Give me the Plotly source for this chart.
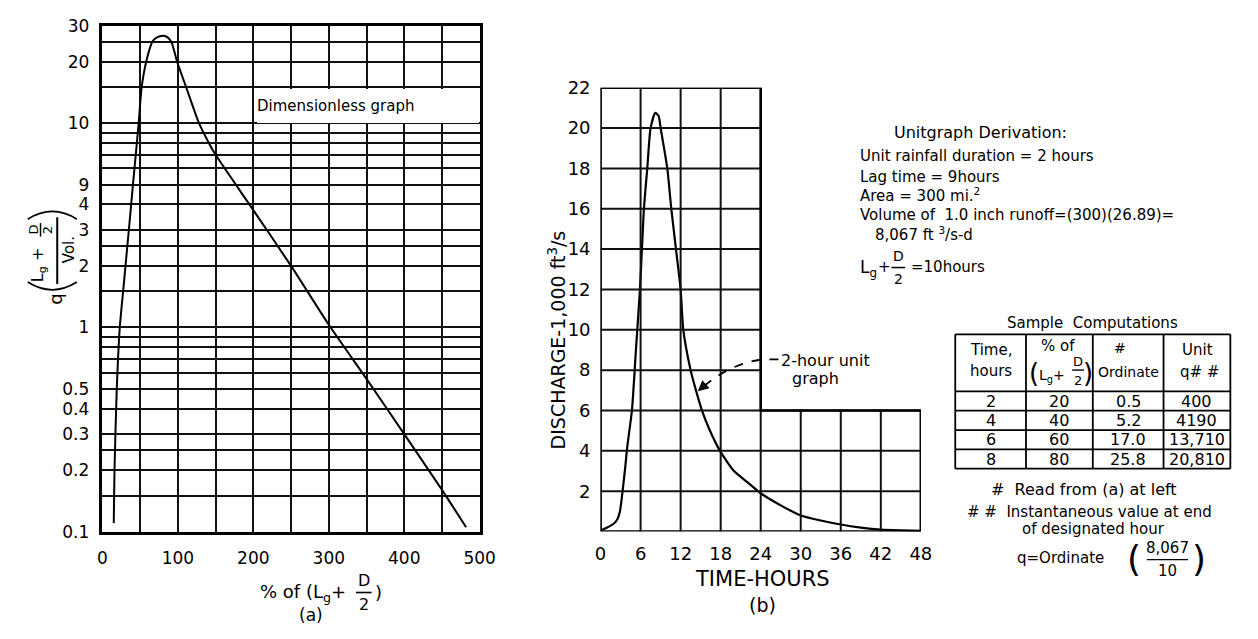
import math
import plotly.graph_objects as go

W, H = 1258, 639
OFF = 8  # page margin of the html body
FONT = "DejaVu Sans"

# ---------------- data ----------------
# (a) dimensionless graph
pct_a = [15, 16, 19, 23, 28, 33, 37, 40, 44, 48, 52, 58, 66, 70, 75, 81, 86, 91.5, 99, 111, 128,
         141, 150, 200, 250, 300, 350, 400, 450, 482]
ord_a = [0.11, 0.2, 0.5, 1.0, 1.58, 2.5, 3.6, 4.8, 6.9, 10, 15, 20, 25, 26.0, 26.6, 26.8, 26.4, 25,
         20, 15, 10, 8, 7, 3.75, 2.0, 1.03, 0.56, 0.3, 0.16, 0.105]
a_xticks = [0, 100, 200, 300, 400, 500]
a_xminor = [50, 150, 250, 350, 450]
a_yticks = [0.1, 0.2, 0.3, 0.4, 0.5, 1, 2, 3, 4, 5, 10, 20, 30]
a_yticktext = ["0.1", "0.2", "0.3", "0.4", "0.5", "1", "2", "3", "4", "9", "10", "20", "30"]
a_yminor = [0.15, 0.25, 0.6, 0.7, 0.8, 0.9, 1.5, 2.5, 6, 7, 8, 9, 15, 25]

# (b) 2-hour unit graph (1,000 ft3/s)
t_b = [0, 1, 2, 2.5, 2.9, 3.3, 3.7, 4, 4.7, 5.3, 5.9, 6.2, 6.5, 7, 7.5, 8.2, 8.7, 9, 10, 10.6,
       11.3, 12, 12.4, 13.5, 14.3, 15.2, 16.4, 17.9, 20, 22, 24, 27, 30, 33, 36, 39, 42, 45, 48]
q_b = [0.05, 0.2, 0.4, 0.6, 1.0, 2.0, 3.2, 4.2, 6.0, 9.0, 12.0, 14.0, 16.0, 18.0, 20.0, 20.75,
       20.6, 20.0, 18.0, 16.0, 14.0, 12.0, 10.0, 8.0, 7.0, 6.0, 5.0, 4.0, 3.0, 2.45, 1.9, 1.3,
       0.8, 0.55, 0.35, 0.2, 0.1, 0.06, 0.04]
b_xticks = [0, 6, 12, 18, 24, 30, 36, 42, 48]
b_yticks = [2, 4, 6, 8, 10, 12, 14, 16, 18, 20, 22]
b_split_x = 24   # upper grid only reaches this time
b_split_y = 6    # lower grid (full width) reaches this discharge

# sample computations table
tbl_time = ["2", "4", "6", "8"]
tbl_pct = ["20", "40", "60", "80"]
tbl_ord = ["0.5", "5.2", "17.0", "25.8"]
tbl_unit = ["400", "4190", "13,710", "20,810"]

# derivation text
deriv_lines = [
    "Unit rainfall duration = 2 hours",
    "Lag time = 9hours",
    "Area = 300 mi.<sup>2</sup>",
    "Volume of  1.0 inch runoff=(300)(26.89)=",
]


def px(x):
    return (x - OFF) / W


def py(y):
    return 1 - (y - OFF) / H


# pixel frame of the panels (screen pixels)
A_L, A_R, A_T, A_B = 98, 482, 15, 538
B_L, B_R, B_T, B_B = 605, 931, 79, 538

# ---------------- figure ----------------
fig = go.Figure()
fig.add_trace(go.Scatter(x=pct_a, y=ord_a, mode="lines", xaxis="x", yaxis="y",
                         line=dict(color="black", width=2, shape="spline", smoothing=0.6),
                         hoverinfo="skip", showlegend=False))
fig.add_trace(go.Scatter(x=t_b, y=q_b, mode="lines", xaxis="x2", yaxis="y2",
                         line=dict(color="black", width=2.2, shape="spline", smoothing=0.6),
                         hoverinfo="skip", showlegend=False))

GRID = "#111111"
tfa = dict(family=FONT, size=17, color="black")
tfb = dict(family=FONT, size=18, color="black")

fig.update_layout(
    width=W, height=H, margin=dict(l=0, r=0, t=0, b=0),
    paper_bgcolor="white", plot_bgcolor="white", showlegend=False,
    font=dict(family=FONT, color="black"),
    xaxis=dict(domain=[px(A_L), px(A_R)], range=[0, 500], tickvals=a_xticks,
               showgrid=True, gridcolor=GRID, gridwidth=2,
               minor=dict(tickvals=a_xminor, showgrid=True, gridcolor=GRID, gridwidth=2),
               showline=True, mirror=True, linecolor="black", linewidth=2.5,
               zeroline=False, ticks="", fixedrange=True,
               tickfont=tfa, ticklabelstandoff=9, anchor="y"),
    yaxis=dict(domain=[py(A_B), py(A_T)], type="log", range=[-1, math.log10(30)],
               tickvals=a_yticks, ticktext=a_yticktext,
               showgrid=True, gridcolor=GRID, gridwidth=2,
               minor=dict(tickvals=a_yminor, showgrid=True, gridcolor=GRID, gridwidth=2),
               showline=True, mirror=True, linecolor="black", linewidth=2.5,
               zeroline=False, ticks="", fixedrange=True,
               tickfont=tfa, ticklabelstandoff=7, anchor="x"),
    xaxis2=dict(domain=[px(B_L), px(B_R)], range=[0, 48], tickvals=b_xticks,
                showgrid=False, showline=False, zeroline=False, ticks="", fixedrange=True,
                tickfont=tfb, ticklabelstandoff=9, anchor="y2"),
    yaxis2=dict(domain=[py(B_B), py(B_T)], range=[0, 22], tickvals=b_yticks,
                showgrid=False, showline=False, zeroline=False, ticks="", fixedrange=True,
                tickfont=tfb, ticklabelstandoff=9, anchor="x2"),
)

shapes = []
ann = []

# (b) L-shaped grid drawn on the panel's own axes
for xv in b_xticks:
    top = 22 if xv <= b_split_x else b_split_y
    shapes.append(dict(type="line", xref="x2", yref="y2", x0=xv, x1=xv, y0=0, y1=top,
                       line=dict(color=GRID, width=2)))
for yv in b_yticks:
    right = b_split_x if yv > b_split_y else 48
    shapes.append(dict(type="line", xref="x2", yref="y2", x0=0, x1=right, y0=yv, y1=yv,
                       line=dict(color=GRID, width=2)))
shapes.append(dict(type="path", xref="x2", yref="y2",
                   path=f"M 0,0 L 0,22 L {b_split_x},22 L {b_split_x},{b_split_y} "
                        f"L 48,{b_split_y} L 48,0 Z",
                   line=dict(color="black", width=2.5)))


def txt(x, y, s, size=14, angle=0, xanchor="center", yanchor="middle", **kw):
    d = dict(x=px(x), y=py(y), xref="paper", yref="paper", text=s, showarrow=False,
             font=dict(family=FONT, size=size, color="black"), textangle=angle,
             xanchor=xanchor, yanchor=yanchor)
    d.update(kw)
    ann.append(d)


def seg(x0, y0, x1, y1, w=1.6):
    shapes.append(dict(type="line", xref="paper", yref="paper", x0=px(x0), x1=px(x1),
                       y0=py(y0), y1=py(y1), line=dict(color="black", width=w)))


def path(pts_str, w=1.8, dash=None):
    ln = dict(color="black", width=w)
    if dash:
        ln["dash"] = dash
    shapes.append(dict(type="path", xref="paper", yref="paper", path=pts_str, line=ln))


def P(x, y):
    return f"{px(x):.5f},{py(y):.5f}"


# "Dimensionless graph" label in a white box that hides the grid
ann.append(dict(x=px(368.5), y=py(98), xref="paper", yref="paper", xanchor="center",
                yanchor="middle", text="Dimensionless graph", showarrow=False,
                bgcolor="white", width=222, height=34, align="left", borderpad=0,
                borderwidth=0, font=dict(family=FONT, size=15, color="black")))

# dashed pointer to the curve in (b)
path(f"M {P(786, 360)} L {P(770, 360)} Q {P(738, 364)} {P(711, 387)}", 1.8, "dash")
ann.append(dict(x=px(704), y=py(393), xref="paper", yref="paper", ax=9, ay=-8,
                text="", showarrow=True, arrowhead=2, arrowsize=1.2, arrowwidth=1.8,
                arrowcolor="black"))
txt(834, 361, "2-hour unit", 16)
txt(824, 380, "graph", 16)

# ---- (a) y-axis label: q( (Lg + D/2) / Vol. )
txt(50, 298, "q", 18, -90)
path(f"M {P(22, 280)} Q {P(47, 296)} {P(72, 280)}", 1.8)
path(f"M {P(22, 215)} Q {P(47, 199)} {P(72, 215)}", 1.8)
txt(33, 262, "L<sub>g</sub> +", 16, -90)
txt(28, 226, "D", 13, -90)
seg(35, 219, 35, 233, 1.5)
txt(42, 226, "2", 13, -90)
seg(52, 213, 52, 282, 2)
txt(64, 247, "Vol.", 15, -90)

# ---- (a) x-axis label
txt(348, 601, "% of (L<sub>g</sub>+", 18, xanchor="right")
txt(364, 589, "D", 16)
seg(356, 601, 372, 601, 1.6)
txt(364, 613, "2", 16)
txt(379, 601, ")", 18)
txt(310, 624, "(a)", 17)

# ---- (b) axis labels
txt(561, 340, "DISCHARGE-1,000 ft<sup>3</sup>/s", 19, -90)
txt(770, 587, "TIME-HOURS", 21)
txt(770, 614, "(b)", 19)

# ---- derivation text block
txt(902, 125, "Unitgraph Derivation:", 16, xanchor="left")
for i, s in enumerate(deriv_lines):
    txt(867, [150, 171, 190, 211][i], s, 15, xanchor="left")
txt(882, 230, "8,067 ft <sup>3</sup>/s-d", 15, xanchor="left")
txt(867, 266, "L<sub>g</sub>", 17, xanchor="left")
txt(894, 264, "+", 15)
txt(908, 253, "D", 14)
seg(901, 265, 915, 265, 1.5)
txt(908, 277, "2", 14)
txt(919, 264, "=10hours", 15, xanchor="left")

# ---- sample computations table
txt(1106, 322, "Sample  Computations", 15)
col_x = [966, 1038, 1106, 1178, 1246]
row_y = [334, 393, 413, 433, 453, 473]
for x in col_x:
    seg(x, 334, x, 473, 1.8)
for y in row_y:
    seg(966, y, 1246, y, 1.8)
centers = [(col_x[i] + col_x[i + 1]) / 2 for i in range(4)]
txt(centers[0], 350, "Time,", 15)
txt(centers[0], 372, "hours", 15)
txt(1071, 346, "% of", 15)
txt(1046, 374, "(", 26)
txt(1064, 377, "L<sub>g</sub>+", 14)
txt(1091, 362, "D", 13)
seg(1085, 371, 1097, 371, 1.4)
txt(1091, 382, "2", 13)
txt(1101, 374, ")", 26)
txt(1134, 348, "#", 14)
txt(centers[2], 373, "Ordinate", 14)
txt(1213, 350, "Unit", 15)
txt(1215, 373, "q# #", 15)
data_y = [403, 423, 443, 463]
for i in range(4):
    txt(centers[0], data_y[i], tbl_time[i], 16)
    txt(centers[1], data_y[i], tbl_pct[i], 16)
    txt(centers[2], data_y[i], tbl_ord[i], 16)
    txt(centers[3], data_y[i], tbl_unit[i], 16)

txt(1097, 495, "#  Read from (a) at left", 16)
txt(1103, 518, "# #  Instantaneous value at end", 15)
txt(1107, 535, "of designated hour", 15)
txt(1027, 565, "q=Ordinate", 15, xanchor="left")
txt(1148, 566, "(", 36)
txt(1182, 555, "8,067", 15)
seg(1161, 567, 1203, 567, 1.4)
txt(1182, 579, "10", 15)
txt(1214, 566, ")", 36)

fig.update_layout(shapes=shapes, annotations=ann)
fig.write_html("out.html")
